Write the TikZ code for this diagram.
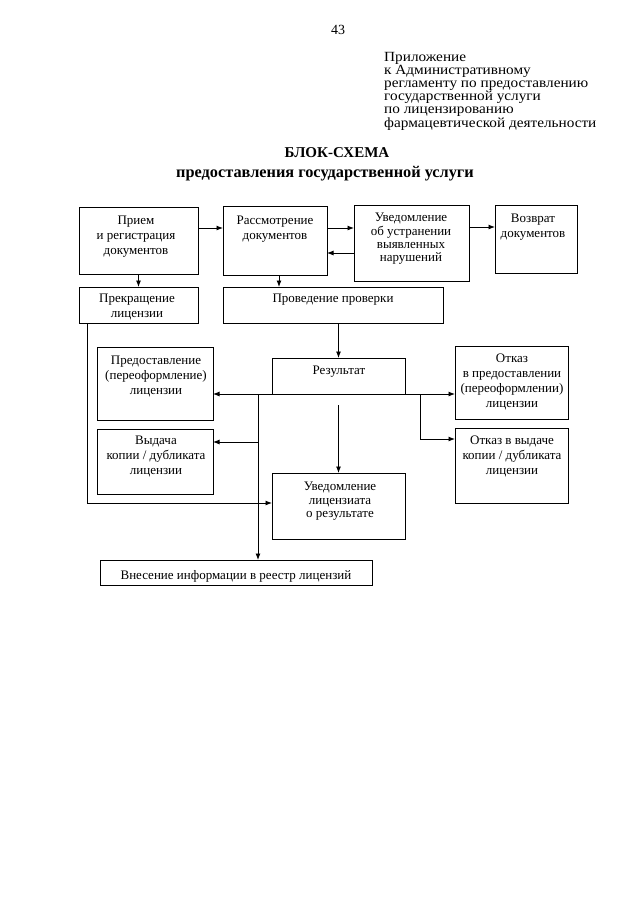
\documentclass[tikz,border=0pt]{standalone}
\usepackage{fontspec}
\usepackage{graphicx}
\setmainfont{Liberation Serif}
\usetikzlibrary{arrows.meta,calc}
\begin{document}
\begin{tikzpicture}[x=1pt,y=-1pt,
  box/.style={draw, line width=1pt, inner sep=0pt, outer sep=0pt},
  txt/.style={align=center, inner sep=0pt, anchor=north, font=\fontsize{13}{15}\selectfont},
  conn/.style={line width=0.9pt},
  arr/.style={conn, -{Latex[length=6.5pt,width=5pt]}}]
\fill[white] (0,0) rectangle (640,905);
\useasboundingbox (0,0) rectangle (640,905);

% header
\node[anchor=north, inner sep=0pt, font=\fontsize{14}{14}\selectfont] (pg) at (338,25) {43};
\node[anchor=north west, inner sep=0pt, font=\fontsize{14}{12.9}\selectfont] (hdr) at (384,52)
 {\scalebox{1.09}[1]{\begin{tabular}{@{}l@{}}Приложение\\к Административному\\регламенту по предоставлению\\государственной услуги\\по лицензированию\\фармацевтической деятельности\end{tabular}}};
\node[inner sep=0pt, font=\bfseries\fontsize{15}{15}\selectfont] (t1) at (337,153) {БЛОК-СХЕМА};
\node[inner sep=0pt, font=\bfseries\fontsize{16.3}{16}\selectfont] (t2) at (325,174) {предоставления государственной услуги};

% boxes
\node[box, minimum width=119, minimum height=67] (priem) at (138.5,240.5) {};
\node[box, minimum width=104, minimum height=69] (rassm) at (275,240.5) {};
\node[box, minimum width=115, minimum height=76] (uved) at (411.5,243) {};
\node[box, minimum width=82, minimum height=68] (vozvr) at (536,239) {};
\node[box, minimum width=119, minimum height=36] (prekr) at (138.5,305) {};
\node[box, minimum width=220, minimum height=36] (prov) at (333,305) {};
\node[box, minimum width=116, minimum height=73] (pred) at (155,383.5) {};
\node[box, minimum width=116, minimum height=65] (vyd) at (155,461.5) {};
\node[box, minimum width=133, minimum height=36] (rez) at (338.5,376) {};
\node[box, minimum width=133, minimum height=66] (uvl) at (338.5,506) {};
\node[box, minimum width=113, minimum height=73] (otk1) at (511.5,382.5) {};
\node[box, minimum width=113, minimum height=75] (otk2) at (511.5,465.5) {};
\node[box, minimum width=272, minimum height=25] (vnes) at (236,572.5) {};

% texts
\node[txt] (tpriem) at (136,216) {Прием\\и регистрация\\документов};
\node[txt] (trassm) at (275,216) {Рассмотрение\\документов};
\node[txt, font=\fontsize{13}{13.3}\selectfont] (tuved) at (411,213) {Уведомление\\об устранении\\выявленных\\нарушений};
\node[txt] (tvozvr) at (533,214) {Возврат\\документов};
\node[txt] (tprekr) at (137,294) {Прекращение\\лицензии};
\node[txt] (tprov) at (333,294) {Проведение проверки};
\node[txt] (tpred) at (156,356) {Предоставление\\(переоформление)\\лицензии};
\node[txt] (tvyd) at (156,436) {Выдача\\копии / дубликата\\лицензии};
\node[txt] (trez) at (339,366) {Результат};
\node[txt, font=\fontsize{13}{13.5}\selectfont] (tuvl) at (340,482) {Уведомление\\лицензиата\\о результате};
\node[txt] (totk1) at (512,354) {Отказ\\в предоставлении\\(переоформлении)\\лицензии};
\node[txt] (totk2) at (512,436) {Отказ в выдаче\\копии / дубликата\\лицензии};
\node[txt] (tvnes) at (236,570) {Внесение информации в реестр лицензий};

% helper coordinates
\coordinate (yA) at (0,228);
\coordinate (yB) at (0,253);
\coordinate (yC) at (0,227);
\coordinate (xR) at (279,0);
\coordinate (jL) at (258,394);
\coordinate (jV) at (258,442);
\coordinate (jR) at (420,394);
\coordinate (jR2) at (420,439);
\coordinate (cU) at (338.5,405);
\coordinate (kL) at (87,503);

% connectors
\draw[arr] (priem.east |- yA) -- (rassm.west |- yA);
\draw[arr] (rassm.east |- yA) -- (uved.west |- yA);
\draw[arr] (uved.west |- yB) -- (rassm.east |- yB);
\draw[arr] (uved.east |- yC) -- (vozvr.west |- yC);
\draw[arr] (priem.south) -- (prekr.north);
\draw[arr] (rassm.south -| xR) -- (prov.north -| xR);
\draw[arr] (prov.south -| rez.north) -- (rez.north);
\draw[arr] (rez.south west) -- (rez.south west -| pred.east);
\draw[arr] (rez.south east) -- (rez.south east -| otk1.west);
\draw[arr] (jL) -- (jL |- vnes.north);
\draw[arr] (jV) -- (jV -| vyd.east);
\draw[arr] (jR) -- (jR2) -- (jR2 -| otk2.west);
\draw[arr] (cU) -- (uvl.north);
\draw[arr] (prekr.south -| kL) -- (kL) -- (kL -| uvl.west);
\end{tikzpicture}
\end{document}
